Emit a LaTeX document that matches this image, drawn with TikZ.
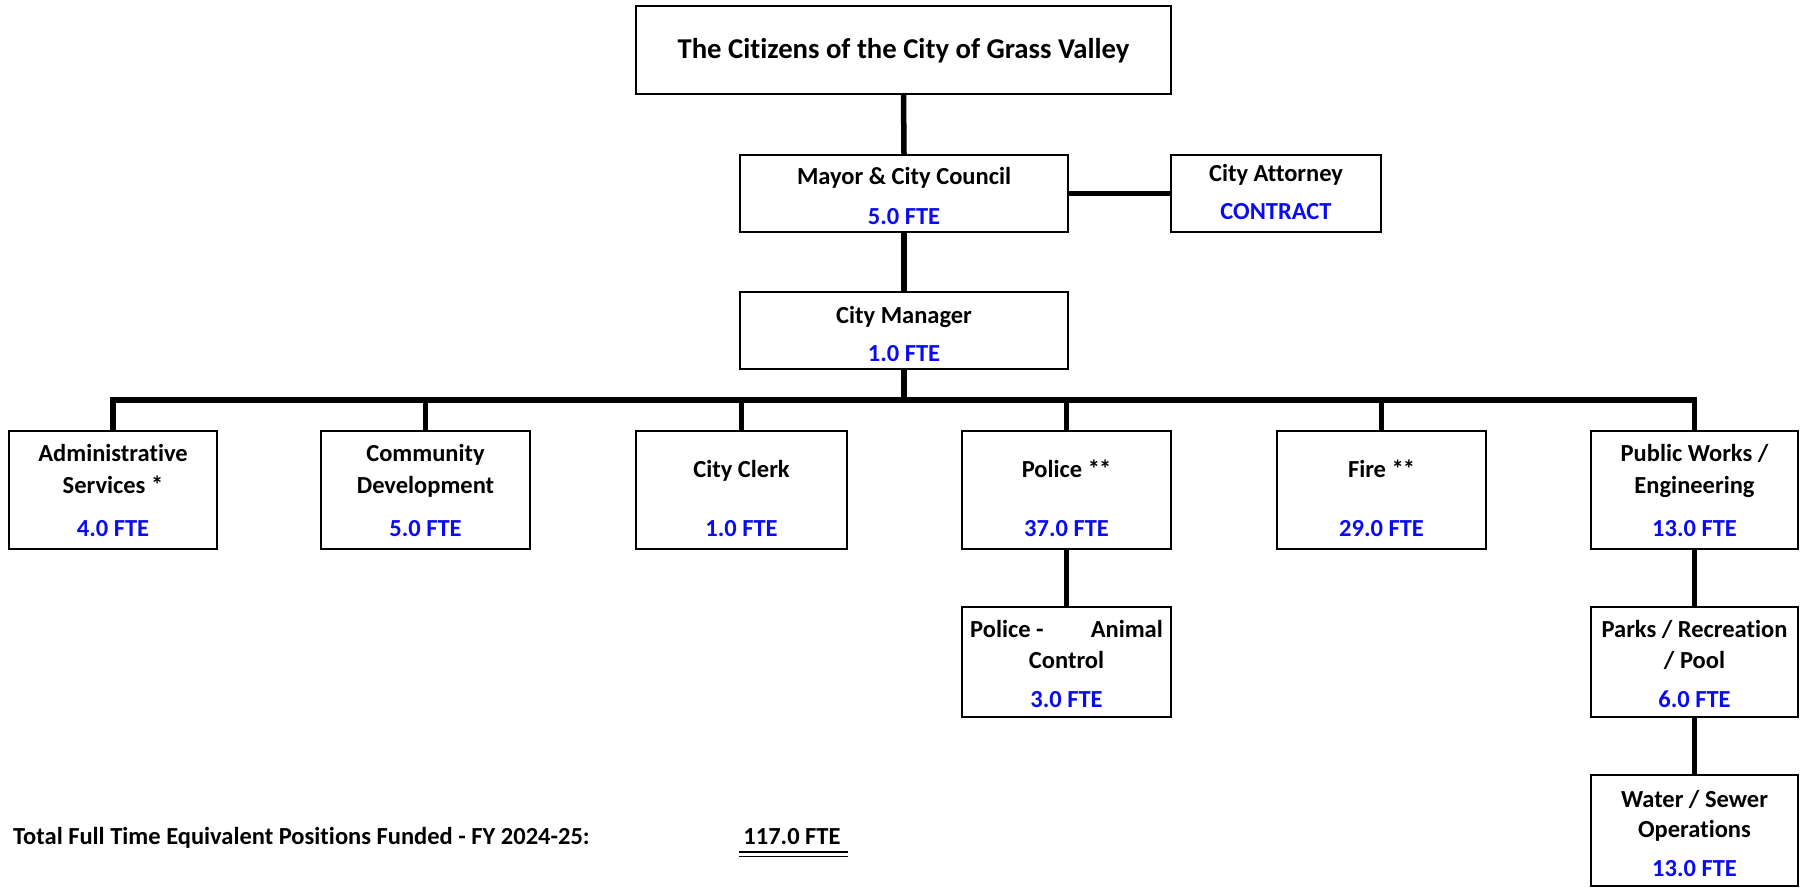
\documentclass[tikz,border=0pt]{standalone}
\usepackage{fontspec}
\setmainfont{Carlito}[Ligatures=NoCommon]
\definecolor{fteblue}{RGB}{10,10,245}
\begin{document}
\begin{tikzpicture}[x=1pt,y=-1pt,
  box/.style={draw, line width=2pt, inner sep=0pt, fill=white},
  conn/.style={line width=5.5pt, line join=miter},
  lbl/.style={font=\bfseries\fontsize{24.5}{28}\selectfont, anchor=base, inner sep=0pt},
  fte/.style={lbl, text=fteblue},
  ttl/.style={font=\bfseries\fontsize{28.7}{32}\selectfont, anchor=base, inner sep=0pt}]
\useasboundingbox (0,0) rectangle (1800,888);
\fill[white] (0,0) rectangle (1800,888);
% boxes
\node[box, minimum width=535pt, minimum height=88pt] (cit) at (903.5,50) {};
\node[box, minimum width=328pt, minimum height=77pt] (mayor) at (904,193.5) {};
\node[box, minimum width=210pt, minimum height=77pt] (att) at (1276,193.5) {};
\node[box, minimum width=328pt, minimum height=77pt] (mgr) at (904,330.5) {};
\node[box, minimum width=208pt, minimum height=118pt] (admin) at (113,490) {};
\node[box, minimum width=209pt, minimum height=118pt] (comm) at (425.5,490) {};
\node[box, minimum width=211pt, minimum height=118pt] (clerk) at (741.5,490) {};
\node[box, minimum width=209pt, minimum height=118pt] (police) at (1066.5,490) {};
\node[box, minimum width=209pt, minimum height=118pt] (fire) at (1381.5,490) {};
\node[box, minimum width=207pt, minimum height=118pt] (pw) at (1694.5,490) {};
\node[box, minimum width=209pt, minimum height=110pt] (animal) at (1066.5,662) {};
\node[box, minimum width=207pt, minimum height=110pt] (parks) at (1694.5,662) {};
\node[box, minimum width=207pt, minimum height=111pt] (water) at (1694.5,830.5) {};
% connectors
\coordinate (bus) at (0,400);
\draw[conn] (cit.south) -- (mayor.north);
\draw[conn] (mayor.east) -- (att.west);
\draw[conn] (mayor.south) -- (mgr.north);
\draw[conn] (mgr.south) -- (mgr.south |- bus);
\draw[conn] (admin.north) -- (admin.north |- bus) -- (pw.north |- bus) -- (pw.north);
\draw[conn] (comm.north) -- (comm.north |- bus);
\draw[conn] (clerk.north) -- (clerk.north |- bus);
\draw[conn] (police.north) -- (police.north |- bus);
\draw[conn] (fire.north) -- (fire.north |- bus);
\draw[conn] (police.south) -- (animal.north);
\draw[conn] (pw.south) -- (parks.north);
\draw[conn] (parks.south) -- (water.north);
% texts
\node[ttl] (tcit) at (903.5,59) {The Citizens of the City of Grass Valley};
\node[lbl] (tmayor) at (904,185) {Mayor \& City Council};
\node[fte] (fmayor) at (904,224) {5.0 FTE};
\node[lbl] (tatt) at (1276,182) {City Attorney};
\node[fte] (fatt) at (1276,219) {CONTRACT};
\node[lbl] (tmgr) at (904,323) {City Manager};
\node[fte] (fmgr) at (904,361) {1.0 FTE};
\node[lbl] (tadmin1) at (113,461) {Administrative};
\node[lbl] (tadmin2) at (113,493) {Services *};
\node[fte] (fadmin) at (113,536) {4.0 FTE};
\node[lbl] (tcomm1) at (425.5,461) {Community};
\node[lbl] (tcomm2) at (425.5,493) {Development};
\node[fte] (fcomm) at (425.5,536) {5.0 FTE};
\node[lbl] (tclerk) at (741.5,477) {City Clerk};
\node[fte] (fclerk) at (741.5,536) {1.0 FTE};
\node[lbl] (tpolice) at (1066.5,477) {Police *\kern-1pt*};
\node[fte] (fpolice) at (1066.5,536) {37.0 FTE};
\node[lbl] (tfire) at (1381.5,477) {Fire *\kern-1pt*};
\node[fte] (ffire) at (1381.5,536) {29.0 FTE};
\node[lbl] (tpw1) at (1694.5,461) {Public Works /};
\node[lbl] (tpw2) at (1694.5,493) {Engineering};
\node[fte] (fpw) at (1694.5,536) {13.0 FTE};
\node[lbl, anchor=base west] (tanimal1a) at (970,637) {Police -};
\node[lbl, anchor=base east] (tanimal1b) at (1163,637) {Animal};
\node[lbl] (tanimal2) at (1066.5,668) {Control};
\node[fte] (fanimal) at (1066.5,707) {3.0 FTE};
\node[lbl] (tparks1) at (1694.5,637) {Parks / Recreation};
\node[lbl] (tparks2) at (1694.5,668) {/ Pool};
\node[fte] (fparks) at (1694.5,707) {6.0 FTE};
\node[lbl] (twater1) at (1694.5,807) {Water / Sewer};
\node[lbl] (twater2) at (1694.5,837) {Operations};
\node[fte] (fwater) at (1694.5,876) {13.0 FTE};
% total
\node[lbl, anchor=base west] (total) at (13,844) {Total Full Time Equivalent Positions Funded - FY 2024-25:};
\node[lbl] (tot) at (792,844) {117.0 FTE};
\draw[line width=1.4pt] (739,852) -- (848,852);
\draw[line width=1.4pt] (739,856.5) -- (848,856.5);
\end{tikzpicture}
\end{document}
